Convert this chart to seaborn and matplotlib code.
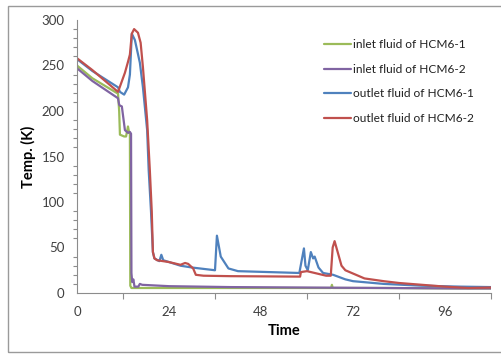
import pandas as pd
import numpy as np
from matplotlib import pyplot as plt
from matplotlib.patches import Rectangle
from matplotlib.ticker import MultipleLocator
import seaborn as sns

# inlet fluid of HCM6-1 (green)
x_in1 = [0, 4, 10.7, 11.0, 11.2, 12.3, 12.8, 13.3, 13.6, 13.8, 13.9, 14.2, 20, 40, 60, 66.3, 66.5, 66.7, 80, 100, 108]
y_in1 = [250, 236, 219, 200, 174, 172, 172, 183, 176, 176, 8, 5.5, 5.5, 5.5, 5.5, 5.5, 9, 5.5, 5.5, 5, 5]

# inlet fluid of HCM6-2 (purple)
x_in2 = [0, 4, 10.7, 11.0, 11.2, 11.7, 12.1, 12.5, 13.3, 13.8, 14.1, 14.2, 14.4, 14.7, 15.0, 16.0, 16.4, 17.0, 24, 40, 60, 80, 100, 108]
y_in2 = [247, 233, 214, 207, 206, 205, 192, 179, 176, 177, 175, 22, 12, 15, 7, 7, 10, 9, 7.5, 6.5, 6, 5.5, 5, 5]

# outlet fluid of HCM6-1 (blue)
x_out1 = [0, 4, 10.7, 11.2, 12.3, 13.3, 13.8, 14.3, 15.1, 16.4, 17.2, 18.3, 18.7, 19.3, 19.8, 20.2, 21.5, 22.0, 22.5, 24,
          27, 30, 36, 36.5, 37.5, 39.5, 42, 50, 58, 59.2, 59.6, 60.2, 61.0, 61.6, 62.0, 63.0, 64.2, 66.8, 70, 72, 80, 90, 100, 108]
y_out1 = [257, 244, 226, 221, 218, 226, 240, 285, 278, 253, 226, 179, 135, 90, 45, 38, 35, 42, 36, 34,
          30, 28, 25, 63, 40, 27, 24, 23, 22, 49, 30, 25, 45, 38, 40, 28, 22, 20, 15, 13, 10, 8, 7, 6.5]

# outlet fluid of HCM6-2 (red)
x_out2 = [0, 4, 10.7, 12.5, 13.3, 13.8, 14.3, 14.9, 15.9, 16.6, 17.2, 18.3, 19.0, 19.5, 19.8, 20.2, 20.9, 24, 27, 28.2,
          29.0, 30.3, 31.0, 33, 40, 58.2, 58.4, 60, 65, 66.2, 66.7, 67.2, 68, 69, 70, 75, 80, 84, 90, 96, 102, 108]
y_out2 = [258, 245, 221, 242, 254, 262, 285, 290, 286, 275, 248, 190, 135, 90, 45, 38, 36, 34, 31, 33,
          32, 27, 20, 19, 18.5, 18, 23, 24, 19, 19, 50, 57, 45, 30, 25, 16, 13, 11, 9, 7, 5.5, 6]

labels = ['inlet fluid of HCM6-1', 'inlet fluid of HCM6-2', 'outlet fluid of HCM6-1', 'outlet fluid of HCM6-2']
colors = ['#9BBB59', '#8064A2', '#4F81BD', '#C0504D']

frames = []
for lab, xs, ys in zip(labels, [x_in1, x_in2, x_out1, x_out2], [y_in1, y_in2, y_out1, y_out2]):
    frames.append(pd.DataFrame({'Time': xs, 'Temp': ys, 'series': lab}))
df = pd.concat(frames, ignore_index=True)

sns.set_style('white')
plt.rcParams['font.family'] = ['Lato', 'DejaVu Sans']

fig = plt.figure(figsize=(5.02, 3.54), dpi=100)
ax = fig.add_axes([77/502, 1-293/354, 414/502, 273/354])

sns.lineplot(data=df, x='Time', y='Temp', hue='series', hue_order=labels,
             palette=colors, sort=False, estimator=None, linewidth=1.6, ax=ax)

ax.set_xlim(0, 108)
ax.set_ylim(0, 300)
ax.xaxis.set_major_locator(MultipleLocator(24))
ax.xaxis.set_minor_locator(MultipleLocator(12))
ax.yaxis.set_major_locator(MultipleLocator(50))
ax.yaxis.set_minor_locator(MultipleLocator(10))

for s in ['top', 'right']:
    ax.spines[s].set_visible(False)
for s in ['left', 'bottom']:
    ax.spines[s].set_color('#8c8c8c')
    ax.spines[s].set_linewidth(0.8)

ax.tick_params(axis='both', which='both', direction='out', color='#8c8c8c',
               labelcolor='#404040', labelsize=9.5, width=0.8)
ax.tick_params(axis='both', which='major', length=4, pad=5)
ax.tick_params(axis='y', which='minor', length=3, left=True)
ax.tick_params(axis='x', which='minor', length=4, bottom=True)
ax.set_xlabel('Time', fontsize=10.5, fontweight='bold', color='black', labelpad=5)
ax.set_ylabel('Temp. (K)', fontsize=10.5, fontweight='bold', color='black', labelpad=4)

leg = ax.legend(loc='upper left', bbox_to_anchor=(324/502, 1-39/354), bbox_transform=fig.transFigure,
                frameon=False, fontsize=8.6, handlelength=2.3, handletextpad=0.15,
                labelspacing=1.15, borderaxespad=0, borderpad=0)
for t in leg.get_texts():
    t.set_color('#202020')

fig.patches.append(Rectangle((8/502, 2/354), 1.0, 346/354, transform=fig.transFigure,
                             fill=False, edgecolor='#9a9a9a', linewidth=1.0))

fig.savefig('out.png', dpi=100)
